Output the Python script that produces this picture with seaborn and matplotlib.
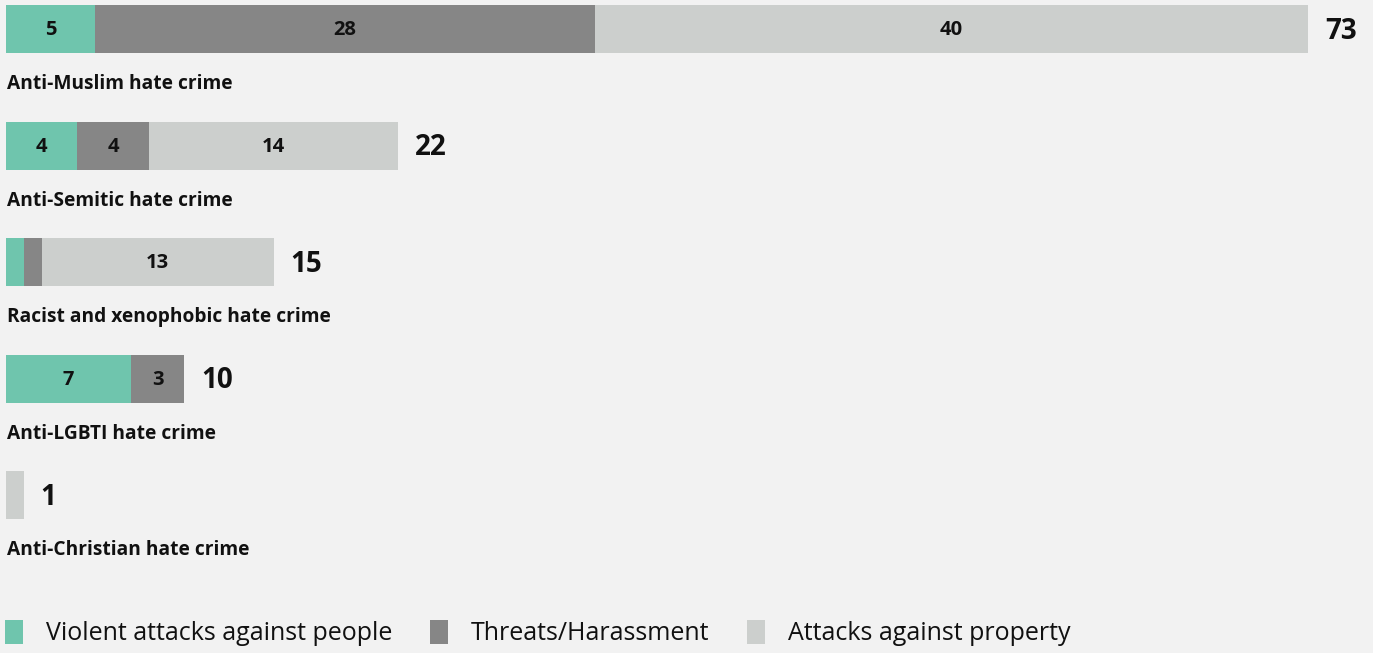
import matplotlib
matplotlib.use("Agg")
import matplotlib.pyplot as plt
from matplotlib.patches import Patch
import seaborn as sns
import pandas as pd

categories = ["Anti-Muslim hate crime", "Anti-Semitic hate crime",
              "Racist and xenophobic hate crime", "Anti-LGBTI hate crime",
              "Anti-Christian hate crime"]
violent = [5, 4, 1, 7, 0]
threats = [28, 4, 1, 3, 0]
property_ = [40, 14, 13, 0, 1]
series_names = ["Violent attacks against people", "Threats/Harassment",
                "Attacks against property"]

TEAL = "#6fc5ad"
DARK = "#868686"
LIGHT = "#cccfcd"
BG = "#f2f2f2"
INK = "#111111"

df = pd.DataFrame({"category": categories, "violent": violent,
                   "threats": threats, "property": property_})
df["vt"] = df["violent"] + df["threats"]
df["total"] = df["vt"] + df["property"]

sns.set_theme(style="white")
plt.rcParams["font.family"] = ["Open Sans", "DejaVu Sans"]

fig = plt.figure(figsize=(13.73, 6.53), dpi=100, facecolor=BG)
ax = fig.add_axes([0, 0, 1, 1])
ax.set_facecolor(BG)

W = 0.412
common = dict(data=df, y="category", orient="h", width=W, saturation=1,
              errorbar=None, linewidth=0, ax=ax)
sns.barplot(x="total", color=LIGHT, **common)
sns.barplot(x="vt", color=DARK, **common)
sns.barplot(x="violent", color=TEAL, **common)

for i, row in df.iterrows():
    starts = [0, row["violent"], row["vt"]]
    vals = [row["violent"], row["threats"], row["property"]]
    for s, v in zip(starts, vals):
        if v >= 3:
            ax.text(s + v / 2, i + 0.01, str(v), ha="center", va="center",
                    fontsize=14.5, fontweight="bold", color=INK)
    ax.text(row["total"] + 0.95, i + 0.02, str(row["total"]), ha="left", va="center",
            fontsize=20, fontweight="bold", color=INK)
    ax.text(0.05, i + 0.472, row["category"], ha="left", va="center",
            fontsize=13.8, fontweight="bold", color=INK)

ax.set_xlim(-6 / 17.836, 1367 / 17.836)
ax.set_ylim(5.356, -0.249)
ax.set_axis_off()

handles = [Patch(facecolor=c, edgecolor="none") for c in (TEAL, DARK, LIGHT)]
fig.legend(handles, series_names, loc="center left",
           bbox_to_anchor=(0.0, 1 - 633 / 653),
           ncol=3, frameon=False, fontsize=18, handlelength=0.72,
           handleheight=1.15, handletextpad=0.92, columnspacing=1.5,
           borderaxespad=0, borderpad=0.2, labelcolor=INK)

fig.savefig("out.png", dpi=100, facecolor=BG)
